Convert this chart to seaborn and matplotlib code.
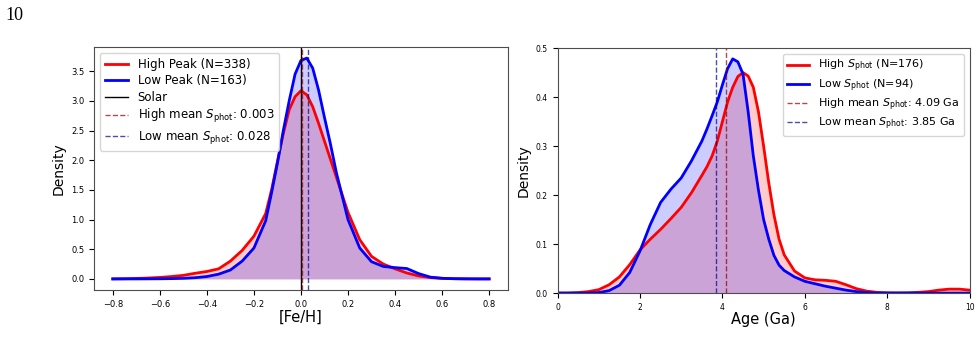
import matplotlib
matplotlib.use("Agg")
import matplotlib.pyplot as plt
import seaborn as sns

# [Fe/H] panel: KDE curves
feh_grid = [-0.8, -0.75, -0.7, -0.65, -0.6, -0.55, -0.5, -0.45, -0.4, -0.35, -0.3, -0.25, -0.2, -0.15,
            -0.125, -0.1, -0.075, -0.05, -0.025, 0.0, 0.025, 0.05, 0.075, 0.1, 0.125, 0.15,
            0.2, 0.25, 0.3, 0.35, 0.4, 0.45, 0.5, 0.55, 0.6, 0.65, 0.7, 0.75, 0.8]
feh_high_peak = [0, 0.003, 0.008, 0.015, 0.025, 0.04, 0.06, 0.095, 0.125, 0.17, 0.30, 0.48, 0.72, 1.10,
                 1.50, 1.98, 2.45, 2.85, 3.07, 3.17, 3.10, 2.90, 2.62, 2.32, 2.02, 1.72,
                 1.12, 0.66, 0.38, 0.25, 0.17, 0.10, 0.05, 0.022, 0.01, 0.004, 0.001, 0, 0]
feh_low_peak = [0, 0, 0, 0.001, 0.002, 0.005, 0.01, 0.02, 0.04, 0.08, 0.15, 0.30, 0.52, 0.98,
                1.45, 1.95, 2.50, 3.00, 3.45, 3.68, 3.72, 3.55, 3.18, 2.72, 2.28, 1.80,
                1.00, 0.52, 0.29, 0.21, 0.19, 0.175, 0.09, 0.03, 0.01, 0.003, 0.001, 0, 0]
n_high_peak = 338
n_low_peak = 163
feh_high_mean = 0.003
feh_low_mean = 0.028
feh_solar = 0.0
feh_ticks = [-0.8, -0.6, -0.4, -0.2, 0.0, 0.2, 0.4, 0.6, 0.8]

# Age panel
age_grid = [0, 0.25, 0.5, 0.75, 1, 1.25, 1.5, 1.75, 2, 2.25, 2.5, 2.75, 3, 3.25, 3.5,
            3.625, 3.75, 3.875, 4, 4.125, 4.25, 4.375, 4.5, 4.625, 4.75, 4.875, 5, 5.125, 5.25, 5.375, 5.5,
            5.75, 6, 6.25, 6.5, 6.75, 7, 7.25, 7.5, 7.75, 8, 8.25, 8.5, 8.75, 9, 9.25, 9.5, 9.75, 10]
age_high = [0, 0, 0.001, 0.003, 0.007, 0.017, 0.033, 0.058, 0.088, 0.11, 0.13, 0.152, 0.175, 0.205, 0.24,
            0.258, 0.28, 0.31, 0.35, 0.39, 0.42, 0.442, 0.45, 0.443, 0.42, 0.37, 0.30, 0.225, 0.16, 0.11, 0.078,
            0.045, 0.031, 0.027, 0.026, 0.024, 0.017, 0.009, 0.004, 0.0015, 0.0005, 0.0003, 0.0005, 0.0015,
            0.003, 0.006, 0.008, 0.008, 0.006]
age_low = [0, 0, 0, 0, 0.001, 0.005, 0.016, 0.042, 0.086, 0.14, 0.185, 0.212, 0.235, 0.27, 0.31,
           0.335, 0.362, 0.39, 0.425, 0.458, 0.478, 0.472, 0.447, 0.37, 0.28, 0.21, 0.15, 0.11, 0.077, 0.057, 0.046,
           0.033, 0.024, 0.019, 0.014, 0.01, 0.006, 0.003, 0.001, 0, 0, 0, 0, 0,
           0, 0, 0, 0, 0]
n_high = 176
n_low = 94
age_high_mean = 4.09
age_low_mean = 3.85

fig = plt.figure(figsize=(9.8, 3.46), dpi=100)
ax1 = fig.add_axes([0.0959, 0.162, 0.4224, 0.702])
ax2 = fig.add_axes([0.569, 0.153, 0.4204, 0.708])

fig.text(0.006, 0.98, "10", va="top", ha="left", family="Liberation Serif", size=13)

# left panel
sns.lineplot(x=feh_grid, y=feh_high_peak, color="red", lw=2, label=f"High Peak (N={n_high_peak})", ax=ax1)
ax1.fill_between(feh_grid, feh_high_peak, color="red", alpha=0.2, lw=0)
sns.lineplot(x=feh_grid, y=feh_low_peak, color="blue", lw=2, label=f"Low Peak (N={n_low_peak})", ax=ax1)
ax1.fill_between(feh_grid, feh_low_peak, color="blue", alpha=0.2, lw=0)
ax1.axvline(feh_solar, color="black", lw=1, label="Solar")
ax1.axvline(feh_high_mean, color="darkred", ls="--", lw=1, alpha=0.7,
            label=rf"High mean $S_{{\rm phot}}$: {feh_high_mean:.3f}")
ax1.axvline(feh_low_mean, color="darkblue", ls="--", lw=1, alpha=0.7,
            label=rf"Low mean $S_{{\rm phot}}$: {feh_low_mean:.3f}")
ax1.set_xticks(feh_ticks)
ax1.set_xlabel("[Fe/H]", fontsize=10.5, labelpad=0.5)
ax1.set_ylabel("Density", fontsize=10)
ax1.tick_params(labelsize=6)
ax1.legend(loc="upper left", fontsize=8.5, labelspacing=0.3)

# right panel
sns.lineplot(x=age_grid, y=age_high, color="red", lw=2, label=rf"High $S_{{\rm phot}}$ (N={n_high})", ax=ax2)
ax2.fill_between(age_grid, age_high, color="red", alpha=0.2, lw=0)
sns.lineplot(x=age_grid, y=age_low, color="blue", lw=2, label=rf"Low $S_{{\rm phot}}$ (N={n_low})", ax=ax2)
ax2.fill_between(age_grid, age_low, color="blue", alpha=0.2, lw=0)
ax2.axvline(age_high_mean, color="darkred", ls="--", lw=1, alpha=0.7,
            label=rf"High mean $S_{{\rm phot}}$: {age_high_mean:.2f} Ga")
ax2.axvline(age_low_mean, color="darkblue", ls="--", lw=1, alpha=0.7,
            label=rf"Low mean $S_{{\rm phot}}$: {age_low_mean:.2f} Ga")
ax2.set_xlim(0, 10)
ax2.set_ylim(0, 0.5)
ax2.set_xlabel("Age (Ga)", fontsize=10.5, labelpad=0.5)
ax2.set_ylabel("Density", fontsize=10)
ax2.tick_params(labelsize=5.5)
ax2.legend(loc="upper right", fontsize=8, labelspacing=0.25)

for ax in (ax1, ax2):
    for s in ax.spines.values():
        s.set_color("0.3")

fig.savefig("out.png", dpi=100)
